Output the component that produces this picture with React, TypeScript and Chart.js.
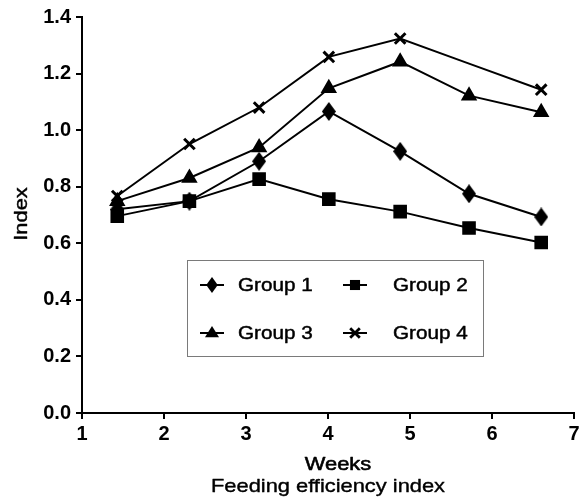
import React, { useEffect, useRef } from "react";
import { Chart, registerables } from "chart.js";

Chart.register(...registerables);

const weeks = [1.43, 2.31, 3.16, 4.01, 4.88, 5.72, 6.6];
const group1 = [0.72, 0.749, 0.89, 1.066, 0.925, 0.775, 0.693];
const group2 = [0.696, 0.749, 0.827, 0.756, 0.712, 0.654, 0.603];
const group3 = [0.749, 0.831, 0.939, 1.148, 1.242, 1.122, 1.063];
const group4 = [0.767, 0.951, 1.08, 1.259, 1.324, 1.235, 1.143];
const group4Radius = [7.5, 7.5, 7.5, 7.5, 7.5, 0, 7.5];

const seriesNames = ["Group 1", "Group 2", "Group 3", "Group 4"];
const xTitle = "Weeks";
const subTitle = "Feeding efficiency index";
const yTitle = "Index";

const FONT = "'Liberation Sans', Arial, sans-serif";

const toPoints = (vals: number[]) => weeks.map((w, i) => ({ x: w, y: vals[i] }));

function makeDiamond(w: number, h: number): HTMLCanvasElement {
  const c = document.createElement("canvas");
  c.width = w;
  c.height = h;
  const g = c.getContext("2d")!;
  g.fillStyle = "#000";
  g.beginPath();
  g.moveTo(w / 2, 0);
  g.lineTo(w, h / 2);
  g.lineTo(w / 2, h);
  g.lineTo(0, h / 2);
  g.closePath();
  g.fill();
  return c;
}

function drawMarker(ctx: CanvasRenderingContext2D, style: string, x: number, y: number, r: number) {
  ctx.save();
  ctx.fillStyle = "#000";
  ctx.strokeStyle = "#000";
  ctx.lineWidth = 2;
  ctx.beginPath();
  if (style === "diamond") {
    ctx.moveTo(x, y - r);
    ctx.lineTo(x + r * 0.72, y);
    ctx.lineTo(x, y + r);
    ctx.lineTo(x - r * 0.72, y);
    ctx.closePath();
    ctx.fill();
  } else if (style === "rect") {
    const s = r * 0.72;
    ctx.rect(x - s, y - s, 2 * s, 2 * s);
    ctx.fill();
  } else if (style === "triangle") {
    ctx.moveTo(x, y - r);
    ctx.lineTo(x + r, y + r * 0.6);
    ctx.lineTo(x - r, y + r * 0.6);
    ctx.closePath();
    ctx.fill();
  } else {
    const s = r * 0.6;
    ctx.lineWidth = 2.8;
    ctx.moveTo(x - s, y - s);
    ctx.lineTo(x + s, y + s);
    ctx.moveTo(x + s, y - s);
    ctx.lineTo(x - s, y + s);
    ctx.stroke();
  }
  ctx.restore();
}

function heavyText(ctx: CanvasRenderingContext2D, text: string, x: number, y: number, sx: number, weight: number, rot = 0) {
  ctx.save();
  ctx.translate(x, y);
  if (rot) ctx.rotate(rot);
  ctx.scale(sx, 1);
  ctx.fillStyle = "#000";
  ctx.strokeStyle = "#000";
  ctx.lineWidth = weight;
  ctx.lineJoin = "round";
  ctx.fillText(text, 0, 0);
  if (weight > 0) ctx.strokeText(text, 0, 0);
  ctx.restore();
}

const legendStyles = ["diamond", "rect", "triangle", "cross"];
const legendRadii = [8, 7, 7, 8];

const overlayPlugin = {
  id: "overlay",
  afterDraw(chart: any) {
    const ctx = chart.ctx as CanvasRenderingContext2D;
    const area = chart.chartArea;
    ctx.save();
    ctx.textAlign = "center";
    ctx.textBaseline = "middle";
    const sx = 1.15;
    ctx.font = `19px ${FONT}`;
    heavyText(ctx, xTitle, 338, 465, sx, 0.6);
    heavyText(ctx, subTitle, (area.left + area.right) / 2, 487, sx, 0.4);
    heavyText(ctx, yTitle, 22, 214, sx, 0.4, -Math.PI / 2);

    // legend box
    const bx = 187, by = 260, bw = 296, bh = 96;
    ctx.strokeStyle = "#7a7a7a";
    ctx.lineWidth = 1;
    ctx.strokeRect(bx + 0.5, by + 0.5, bw, bh);
    const items = [
      { lx: 200, ly: 285, tx: 238 },
      { lx: 343, ly: 285, tx: 393 },
      { lx: 200, ly: 333, tx: 238 },
      { lx: 343, ly: 333, tx: 393 },
    ];
    ctx.font = `18px ${FONT}`;
    ctx.textAlign = "left";
    chart.data.datasets.forEach((ds: any, i: number) => {
      const it = items[i];
      ctx.strokeStyle = "#000";
      ctx.lineWidth = 2;
      ctx.beginPath();
      ctx.moveTo(it.lx, it.ly);
      ctx.lineTo(it.lx + 24, it.ly);
      ctx.stroke();
      drawMarker(ctx, legendStyles[i], it.lx + 12, it.ly, legendRadii[i]);
      heavyText(ctx, ds.label, it.tx, it.ly + 1, sx, 0.45);
    });
    ctx.restore();
  },
};

export default function App() {
  const ref = useRef<HTMLCanvasElement | null>(null);
  useEffect(() => {
    document.body.style.margin = "0";
    if (!ref.current) return;
    const diamond = makeDiamond(14, 19);
    const common = {
      borderColor: "#000",
      backgroundColor: "#000",
      pointBorderColor: "#000",
      pointBackgroundColor: "#000",
      borderWidth: 2,
      tension: 0,
      fill: false,
    };
    const chart = new Chart(ref.current, {
      type: "line",
      data: {
        datasets: [
          { ...common, label: seriesNames[0], data: toPoints(group1), pointStyle: diamond, pointRadius: 9 } as any,
          { ...common, label: seriesNames[1], data: toPoints(group2), pointStyle: "rect", pointRadius: 8.2 } as any,
          { ...common, label: seriesNames[2], data: toPoints(group3), pointStyle: "triangle", pointRadius: 7.5 } as any,
          { ...common, label: seriesNames[3], data: toPoints(group4), pointStyle: "crossRot", pointRadius: group4Radius, pointBorderWidth: 3 } as any,
        ],
      },
      options: {
        animation: false,
        responsive: false,
        layout: { padding: { left: 0, right: 5, top: 15, bottom: 0 } },
        plugins: { legend: { display: false }, tooltip: { enabled: false } },
        scales: {
          x: {
            type: "linear",
            min: 1,
            max: 7,
            ticks: { stepSize: 1, color: "#000", font: { family: FONT, size: 20, weight: "bold" }, padding: 3 },
            grid: { drawOnChartArea: false, drawTicks: true, tickLength: 6, color: "#000", lineWidth: 2 },
            border: { display: true, color: "#000", width: 2 },
            afterFit: (s: any) => { s.height = 89; },
          },
          y: {
            min: 0,
            max: 1.4,
            ticks: {
              stepSize: 0.2,
              color: "#000",
              font: { family: FONT, size: 20, weight: "bold" },
              padding: 5,
              callback: (v: any) => Number(v).toFixed(1),
            },
            grid: { drawOnChartArea: false, drawTicks: true, tickLength: 6, color: "#000", lineWidth: 2 },
            border: { display: true, color: "#000", width: 2 },
            afterFit: (s: any) => { s.width = 82; },
          },
        },
      } as any,
      plugins: [overlayPlugin],
    });
    return () => chart.destroy();
  }, []);
  return (
    <div style={{ width: 585, height: 502 }}>
      <canvas ref={ref} width={585} height={502} style={{ display: "block" }} />
    </div>
  );
}
